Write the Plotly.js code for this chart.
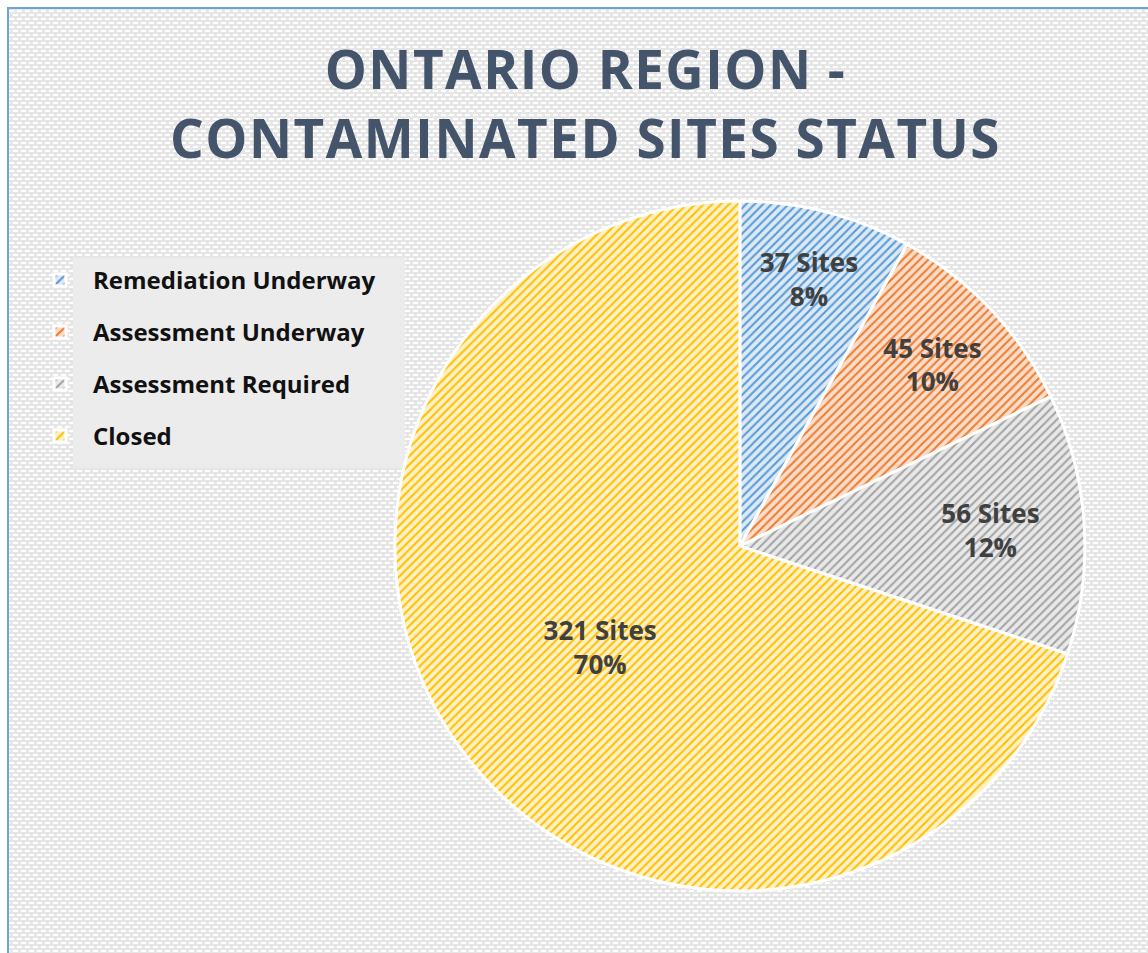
<!DOCTYPE html>
<html>
<head>
<meta charset="utf-8">
<script src="https://cdn.plot.ly/plotly-3.0.1.min.js"></script>
<style>
  html, body { margin: 0; padding: 0; background: #ffffff; }
  #wrap { position: absolute; left: 0; top: 0; width: 1148px; height: 953px; overflow: hidden; background: #ffffff; }
  #frame {
    position: absolute; left: 7px; top: 7px; width: 1180px; height: 1000px;
    border-left: 2px solid #6FA3D8; border-top: 2px solid #6FA3D8;
    background-color: #E6E6E6;
    background-image: url("data:image/svg+xml;utf8,<svg xmlns='http://www.w3.org/2000/svg' width='8' height='8'><rect x='0' y='1' width='5' height='2' fill='white'/><rect x='4' y='5' width='5' height='2' fill='white'/><rect x='-4' y='5' width='5' height='2' fill='white'/></svg>");
  }
  #chart { position: absolute; left: 0; top: 0; width: 1148px; height: 953px; }
  .gtitle { letter-spacing: 1.5px; }
</style>
</head>
<body>
<div id="wrap">
  <div id="frame"></div>
  <div id="chart"></div>
</div>
<script>
// ---- data ----
var categories = ["Remediation Underway", "Assessment Underway", "Assessment Required", "Closed"];
var siteCounts = [37, 45, 56, 321];
var lineColors = ["#5B9BD5", "#ED7D31", "#A5A5A5", "#FFC000"];
var fillColors = ["#DCE9F6", "#FBDDCB", "#E9E9E9", "#FFF1C9"];

var trace = {
  type: "pie",
  labels: categories,
  values: siteCounts,
  sort: false,
  direction: "clockwise",
  rotation: 0,
  domain: { x: [0.344, 0.945], y: [0.065, 0.789] },
  marker: {
    colors: lineColors,
    line: { color: "#FFFFFF", width: 3 },
    pattern: {
      shape: "/",
      fgcolor: lineColors,
      bgcolor: fillColors,
      size: 6,
      solidity: 0.35
    }
  },
  texttemplate: "%{value} Sites<br>%{percent:.0%}",
  textposition: "inside",
  insidetextorientation: "horizontal",
  insidetextfont: { family: "Open Sans", size: 26, color: "#404040", weight: "bold" },
  hoverinfo: "skip"
};

var layout = {
  width: 1148,
  height: 953,
  margin: { l: 0, r: 0, t: 0, b: 0 },
  paper_bgcolor: "rgba(0,0,0,0)",
  plot_bgcolor: "rgba(0,0,0,0)",
  title: {
    text: "ONTARIO REGION -<br>CONTAMINATED SITES STATUS",
    font: { family: "Open Sans", size: 53, color: "#44546A", weight: "bold" },
    x: 0.51,
    xanchor: "center",
    xref: "container",
    y: 1 - 89 / 953,
    yanchor: "top",
    yref: "container"
  },
  shapes: [{
    type: "rect", xref: "paper", yref: "paper", layer: "below",
    x0: 73 / 1148, x1: 405 / 1148, y0: 1 - 468 / 953, y1: 1 - 258 / 953,
    fillcolor: "#ECECEC", line: { width: 0 }
  }],
  showlegend: true,
  legend: {
    x: 40 / 1148,
    y: 1 - 258 / 953,
    xanchor: "left",
    yanchor: "top",
    bgcolor: "rgba(0,0,0,0)",
    font: { family: "Open Sans", size: 24, color: "#111111", weight: "bold" }
  }
};

Plotly.newPlot("chart", [trace], layout, { staticPlot: true, displayModeBar: false }).then(function (gd) {
  // spread legend entries to match the reference's spacing
  var spacing = 52;
  var items = gd.querySelectorAll(".legend .traces");
  var y0 = null;
  items.forEach(function (el, i) {
    var m = /translate\(([-\d.]+)[ ,]+([-\d.]+)\)/.exec(el.getAttribute("transform") || "");
    if (!m) return;
    var x = parseFloat(m[1]), y = parseFloat(m[2]);
    if (y0 === null) y0 = y;
    el.setAttribute("transform", "translate(" + x + "," + (y0 + i * spacing) + ")");
    var t = el.querySelector(".legendtext");
    if (t) t.setAttribute("x", 53);
  });
  var sb = gd.querySelector(".legend .scrollbox");
  if (sb) sb.removeAttribute("clip-path");
});
</script>
</body>
</html>
